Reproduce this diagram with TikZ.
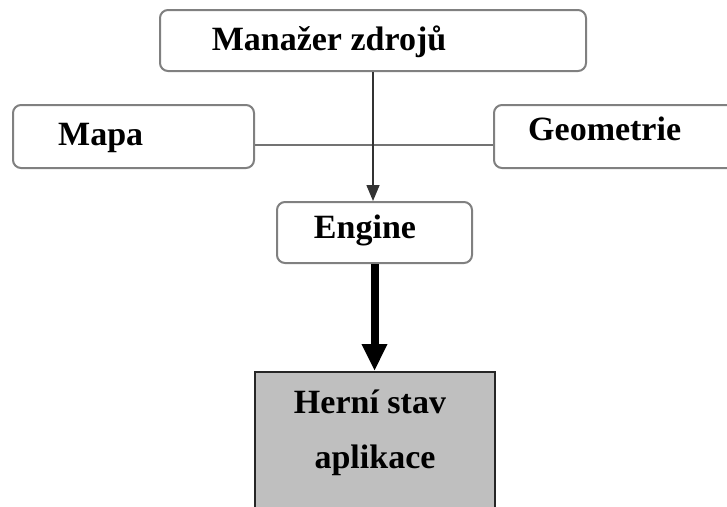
\documentclass[tikz,border=0pt]{standalone}
\usepackage{fontspec}
\setmainfont{Liberation Serif}
\usetikzlibrary{arrows.meta}

\tikzset{
  rbox/.style={draw=black!50, line width=2pt, rounded corners=8pt, fill=white,
               inner sep=0pt},
  lbl/.style={font=\fontsize{34}{40}\selectfont\bfseries, inner sep=0pt, text=black},
  link/.style={draw=black!55, line width=2pt},
  thinarrow/.style={draw=black!80, line width=1.5pt,
                    -{Triangle[width=13pt,length=16pt]}},
  thickarrow/.style={draw=black, line width=8pt,
                     -{Triangle[width=24pt,length=27pt]}},
  statebox/.style={draw=black!85, line width=1.5pt, fill=black!25, inner sep=0pt}
}

\begin{document}
\begin{tikzpicture}[x=1pt, y=-1pt]
  \useasboundingbox (0,0) rectangle (727,506);
  \clip (0,0) rectangle (727,506);
  \fill[white] (0,0) rectangle (727,506);

  % boxes
  \node[rbox, minimum width=426pt, minimum height=61pt] (mgr) at (373,40.5) {};
  \node[rbox, minimum width=241pt, minimum height=63pt] (mapa) at (133.5,136.5) {};
  \node[rbox, minimum width=266pt, minimum height=63pt] (geo) at (627,136.5) {};
  \node[rbox, minimum width=195pt, minimum height=61pt] (eng) at (374.5,232.5) {};
  \node[statebox, minimum width=240pt, minimum height=160pt, anchor=north] (state) at (375,371) {};

  % labels
  \node[lbl, anchor=base] (tmgr) at (329,50) {Manažer zdrojů};
  \node[lbl, anchor=base west] (tmapa) at (58,145) {Mapa};
  \node[lbl, anchor=base west] (tgeo) at (528,140) {Geometrie};
  \node[lbl, anchor=base] (teng) at (365,238) {Engine};
  \node[lbl, anchor=base] (tstate1) at (370,413) {Herní stav};
  \node[lbl, anchor=base] (tstate2) at (375,468) {aplikace};

  % connectors
  \draw[link] ([yshift=-8pt]mapa.east) -- ([yshift=-8pt]geo.west);
  \draw[thinarrow] (mgr.south) -- (mgr.south |- eng.north);
  \draw[thickarrow] (eng.south) -- (eng.south |- state.north);
\end{tikzpicture}
\end{document}
